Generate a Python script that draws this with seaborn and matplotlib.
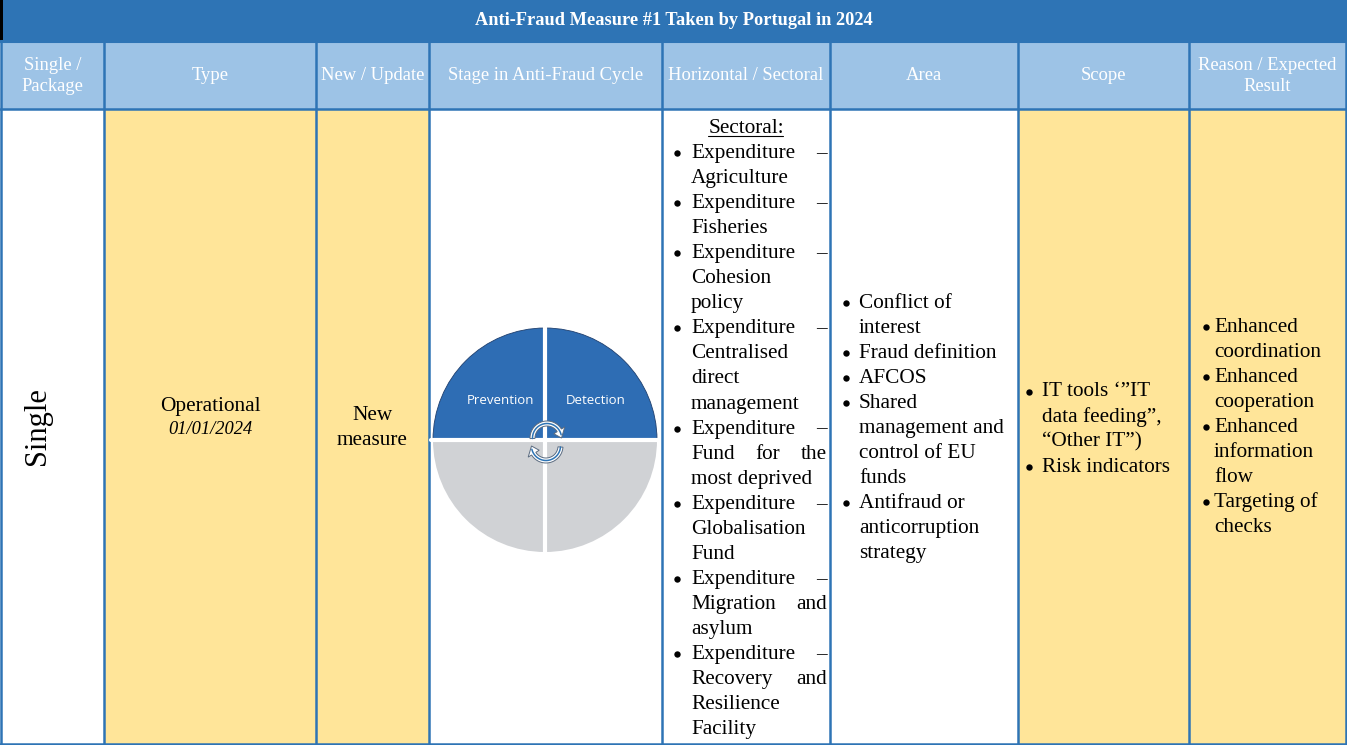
import matplotlib
matplotlib.use("Agg")
import numpy as np
import matplotlib.pyplot as plt
import matplotlib.patches as mpatches
import seaborn as sns

# table content
title = "Anti-Fraud Measure #1 Taken by Portugal in 2024"
headers = ["Single /\nPackage", "Type", "New / Update", "Stage in Anti-Fraud Cycle",
           "Horizontal / Sectoral", "Area", "Scope", "Reason / Expected\nResult"]
single_package = "Single"
measure_type = "Operational"
start_date = "01/01/2024"
new_update = ["New", "measure"]
cycle_stages = ["Prevention", "Detection"]
sectoral_title = "Sectoral:"
sectoral_items = [
    ["Expenditure –", "Agriculture"],
    ["Expenditure –", "Fisheries"],
    ["Expenditure –", "Cohesion", "policy"],
    ["Expenditure –", "Centralised", "direct", "management"],
    ["Expenditure –", "Fund for the", "most deprived"],
    ["Expenditure –", "Globalisation", "Fund"],
    ["Expenditure –", "Migration and", "asylum"],
    ["Expenditure –", "Recovery and", "Resilience", "Facility"],
]
area_items = [
    ["Conflict of", "interest"],
    ["Fraud definition"],
    ["AFCOS"],
    ["Shared", "management and", "control of EU", "funds"],
    ["Antifraud or", "anticorruption", "strategy"],
]
scope_items = [
    ["IT tools ‘”IT", "data feeding”,", "“Other IT”)"],
    ["Risk indicators"],
]
reason_items = [
    ["Enhanced", "coordination"],
    ["Enhanced", "cooperation"],
    ["Enhanced", "information", "flow"],
    ["Targeting of", "checks"],
]

# layout (pixels)
col_edges = [1, 104, 316, 429, 662, 830, 1018, 1189, 1346]
W, H = 1347, 745
dark_blue = "#2E74B5"
light_blue = "#9DC3E6"
yellow = "#FFE599"
body_fill = ["white", yellow, yellow, "white", "white", "white", yellow, yellow]
serif = ["Liberation Serif", "DejaVu Serif"]
line_h = 25.05
fs = 15.3

sns.set_theme(style="white")
plt.rcParams["font.family"] = serif
plt.rcParams["text.color"] = "black"

fig = plt.figure(figsize=(W / 100, H / 100), dpi=100)
ax = fig.add_axes([0, 0, 1, 1])
ax.set_xlim(0, W)
ax.set_ylim(H, 0)
ax.set_axis_off()

# backgrounds
ax.add_patch(mpatches.Rectangle((0, 0), W, 41, color=dark_blue, lw=0))
ax.add_patch(mpatches.Rectangle((0, 0), 3, 41, color="black", lw=0))
for i in range(8):
    x0, x1 = col_edges[i], col_edges[i + 1]
    ax.add_patch(mpatches.Rectangle((x0, 41), x1 - x0, 68, color=light_blue, lw=0))
    ax.add_patch(mpatches.Rectangle((x0, 109), x1 - x0, H - 109, color=body_fill[i], lw=0))

# grid lines
for x in col_edges:
    ax.plot([x, x], [41, H], color=dark_blue, lw=1.8, solid_capstyle="butt")
for y in [41, 109, H - 1.5]:
    ax.plot([0, W], [y, y], color=dark_blue, lw=1.8 if y != 41 else 2.2)

ax.text(W / 2, 20.5, title, color="white", fontsize=13.2, fontweight="bold",
        ha="center", va="center")

centers = [(col_edges[i] + col_edges[i + 1]) / 2 for i in range(8)]
for cx, h in zip(centers, headers):
    ax.text(cx, 76, h, color="white", fontsize=13.4, ha="center", va="center",
            linespacing=1.35)

# simple cells
ax.text(37, 426, single_package, fontsize=22, rotation=90, ha="center", va="center")
ax.text(centers[1], 411.5, measure_type, fontsize=fs, ha="center", va="baseline")
ax.text(centers[1], 433.5, start_date, fontsize=13.3, style="italic", ha="center", va="baseline")
for k, w in enumerate(new_update):
    ax.text(centers[2], 420 + k * line_h, w, fontsize=fs, ha="center", va="baseline")

# cycle wheel
cx, cy, r = 545, 440, 112
wedge_cols = ["#D0D2D5", "#D0D2D5", "#2E6DB4", "#2E6DB4"]
for k, (t1, t2) in enumerate([(0, 90), (90, 180), (180, 270), (270, 360)]):
    ec = "#1F3F6E" if k >= 2 else "none"
    ax.add_patch(mpatches.Wedge((cx, cy), r, t1, t2, fc=wedge_cols[k], ec=ec, lw=0.6))
ax.plot([cx, cx], [cy - r - 2, cy + r + 2], color="white", lw=3)
ax.plot([cx - r - 2, cx + r + 2], [cy, cy], color="white", lw=3)
ax.text(500, 400, cycle_stages[0], color="white", fontsize=9.5, family="Open Sans",
        ha="center", va="center")
ax.text(596, 400, cycle_stages[1], color="white", fontsize=9.5, family="Open Sans",
        ha="center", va="center")


def arc_arrow(acx, acy, r_in, r_out, a_start, a_end, head_deg, head_in, head_out):
    # clockwise arc (display angles, degrees) ending in a triangular head
    t = np.radians(np.linspace(a_start, a_end, 30))
    outer = [(acx + r_out * np.cos(a), acy - r_out * np.sin(a)) for a in t]
    inner = [(acx + r_in * np.cos(a), acy - r_in * np.sin(a)) for a in t[::-1]]
    e = np.radians(a_end)
    tip = np.radians(a_end - head_deg)
    rm = (r_in + r_out) / 2
    head = [(acx + head_in * np.cos(e), acy - head_in * np.sin(e)),
            (acx + rm * np.cos(tip), acy - rm * np.sin(tip)),
            (acx + head_out * np.cos(e), acy - head_out * np.sin(e))]
    pts = outer + [head[2], head[1], head[0]] + inner
    ax.add_patch(mpatches.Polygon(pts, closed=True, fc="white", ec="#5A6B80",
                                  lw=0.7, zorder=5))
    tm = np.radians(np.linspace(a_start, a_end - head_deg * 0.6, 30))
    ax.plot(acx + rm * np.cos(tm), acy - rm * np.sin(tm), color=dark_blue, lw=1.1, zorder=6)


arc_arrow(547, 438, 12, 17, 182, 32, 32, 8, 21)
arc_arrow(546, 446, 12, 17, -4, -148, 32, 8, 21)

# bullet lists
renderer = fig.canvas.get_renderer()


def justify(words, x_left, x_right, y):
    objs = [ax.text(x_left, y, w, fontsize=fs, ha="left", va="baseline") for w in words]
    if len(objs) == 1:
        return
    widths = [o.get_window_extent(renderer).width for o in objs]
    gap = (x_right - x_left - sum(widths)) / (len(objs) - 1)
    pos = x_left
    for o, wd in zip(objs, widths):
        o.set_x(pos)
        pos += wd + gap


def bullet_list(items, x_bullet, x_text, y0, x_right=None):
    y = y0
    for item in items:
        ax.plot(x_bullet, y - 5, marker="o", ms=4.6, color="black", mec="none")
        for j, line in enumerate(item):
            if x_right is not None and j < len(item) - 1:
                justify(line.split(), x_text, x_right, y)
            else:
                ax.text(x_text, y, line, fontsize=fs, ha="left", va="baseline")
            y += line_h


ax.text(centers[4], 133, sectoral_title, fontsize=fs, ha="center", va="baseline")
ax.plot([708, 783], [136, 136], color="black", lw=0.8)
bullet_list(sectoral_items, 677, 691, 158, x_right=827)
bullet_list(area_items, 846, 859, 307.5)
bullet_list(scope_items, 1029, 1042, 396.5)
bullet_list(reason_items, 1206, 1214, 332)

fig.savefig("out.png", dpi=100)
